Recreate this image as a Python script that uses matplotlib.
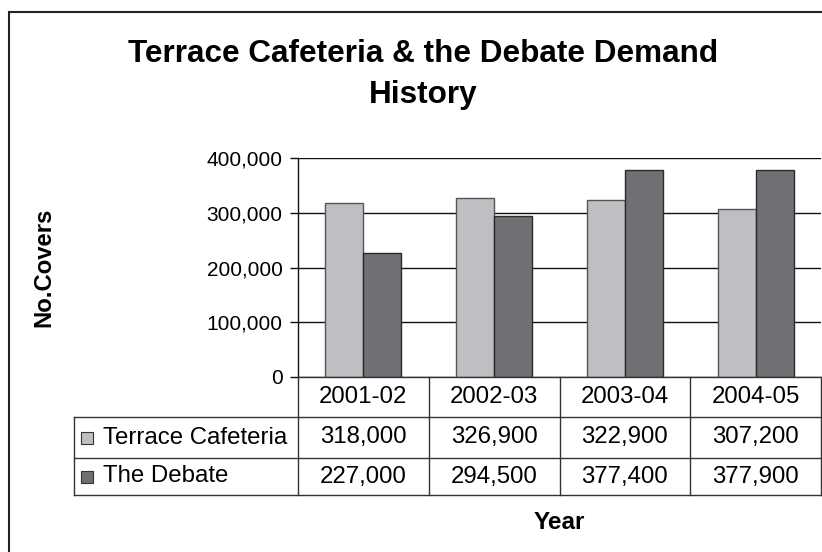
import matplotlib
matplotlib.use("Agg")
import matplotlib.pyplot as plt
from matplotlib.lines import Line2D
from matplotlib.patches import Rectangle

plt.rcParams['font.family'] = ['Liberation Sans', 'DejaVu Sans']

# Data
years = ["2001-02", "2002-03", "2003-04", "2004-05"]
terrace = [318000, 326900, 322900, 307200]
debate = [227000, 294500, 377400, 377900]
series_names = ["Terrace Cafeteria", "The Debate"]
series_colors = ["#BEBFC3", "#6F7073"]

W, H = 822, 552
fig = plt.figure(figsize=(W / 100, H / 100), dpi=100)
fig.patch.set_facecolor("white")


def fx(px):
    return px / W


def fy(py):
    return 1 - py / H


# Plot-area geometry (pixels)
L, R, T, B = 298, 821, 158, 377
ax = fig.add_axes([fx(L), fy(B), fx(R - L), (B - T) / H])
ax.set_facecolor("white")

n = len(years)
xs = list(range(n))
bw = 0.29
ax.bar([x - bw / 2 for x in xs], terrace, width=bw, color=series_colors[0],
       edgecolor="#555555", linewidth=1.0, zorder=3)
ax.bar([x + bw / 2 for x in xs], debate, width=bw, color=series_colors[1],
       edgecolor="#2a2a2a", linewidth=1.0, zorder=3)

ax.set_xlim(-0.5, n - 0.5)
ax.set_ylim(0, 400000)
yt = [0, 100000, 200000, 300000, 400000]
ax.set_yticks(yt)
ax.set_yticklabels([f"{v:,}" for v in yt], fontsize=15)
ax.set_xticks([])
ax.yaxis.grid(True, color="#111111", linewidth=1.0)
ax.set_axisbelow(True)
ax.tick_params(axis="y", direction="out", length=6, width=1, color="#111111", pad=5)
for s in ["top", "right", "bottom"]:
    ax.spines[s].set_visible(False)
ax.spines["left"].set_color("#111111")
ax.spines["left"].set_linewidth(1.0)

# Data table below the plot
row_tops = [377, 417, 458, 495]
tbl_left = 74
col_edges = [L + (R - L) * i / n for i in range(n + 1)]
lc = "#333333"


def hline(y, x0, x1):
    fig.add_artist(Line2D([fx(x0), fx(x1)], [fy(y), fy(y)], color=lc, lw=1.0))


def vline(x, y0, y1):
    fig.add_artist(Line2D([fx(x), fx(x)], [fy(y0), fy(y1)], color=lc, lw=1.0))


hline(row_tops[0], L, R)
for y in row_tops[1:]:
    hline(y, tbl_left, R)
vline(tbl_left, row_tops[1], row_tops[3])
for x in col_edges:
    vline(x, row_tops[0], row_tops[3])

cell_fs = 17.3
for i, yr in enumerate(years):
    cx = (col_edges[i] + col_edges[i + 1]) / 2
    fig.text(fx(cx), fy((row_tops[0] + row_tops[1]) / 2), yr, ha="center",
             va="center", fontsize=cell_fs)

for r, (name, vals, col) in enumerate(zip(series_names, [terrace, debate], series_colors)):
    ytop, ybot = row_tops[r + 1], row_tops[r + 2]
    cy = (ytop + ybot) / 2
    sq = 12
    fig.add_artist(Rectangle((fx(81), fy(cy + sq / 2)), sq / W, sq / H,
                             facecolor=col, edgecolor="#333333", lw=0.8))
    fig.text(fx(103), fy(cy), name, ha="left", va="center", fontsize=cell_fs)
    for i, v in enumerate(vals):
        cx = (col_edges[i] + col_edges[i + 1]) / 2
        fig.text(fx(cx), fy(cy), f"{v:,}", ha="center", va="center", fontsize=cell_fs)

# Titles
fig.text(fx(423), fy(62), "Terrace Cafeteria & the Debate Demand",
         ha="center", va="baseline", fontsize=22.7, fontweight="bold")
fig.text(fx(423), fy(103), "History",
         ha="center", va="baseline", fontsize=22.7, fontweight="bold")
fig.text(fx(44), fy((T + B) / 2), "No.Covers", rotation=90, ha="center",
         va="center", fontsize=17.2, fontweight="bold")
fig.text(fx((L + R) / 2), fy(529), "Year", ha="center", va="baseline",
         fontsize=17.5, fontweight="bold")

# Chart-area frame
fig.add_artist(Rectangle((fx(9), fy(H + 10)), (W + 10) / W, (H + 10 - 12) / H,
                         facecolor="none", edgecolor="#222222", lw=1.5))

fig.savefig("out.png", dpi=100)
